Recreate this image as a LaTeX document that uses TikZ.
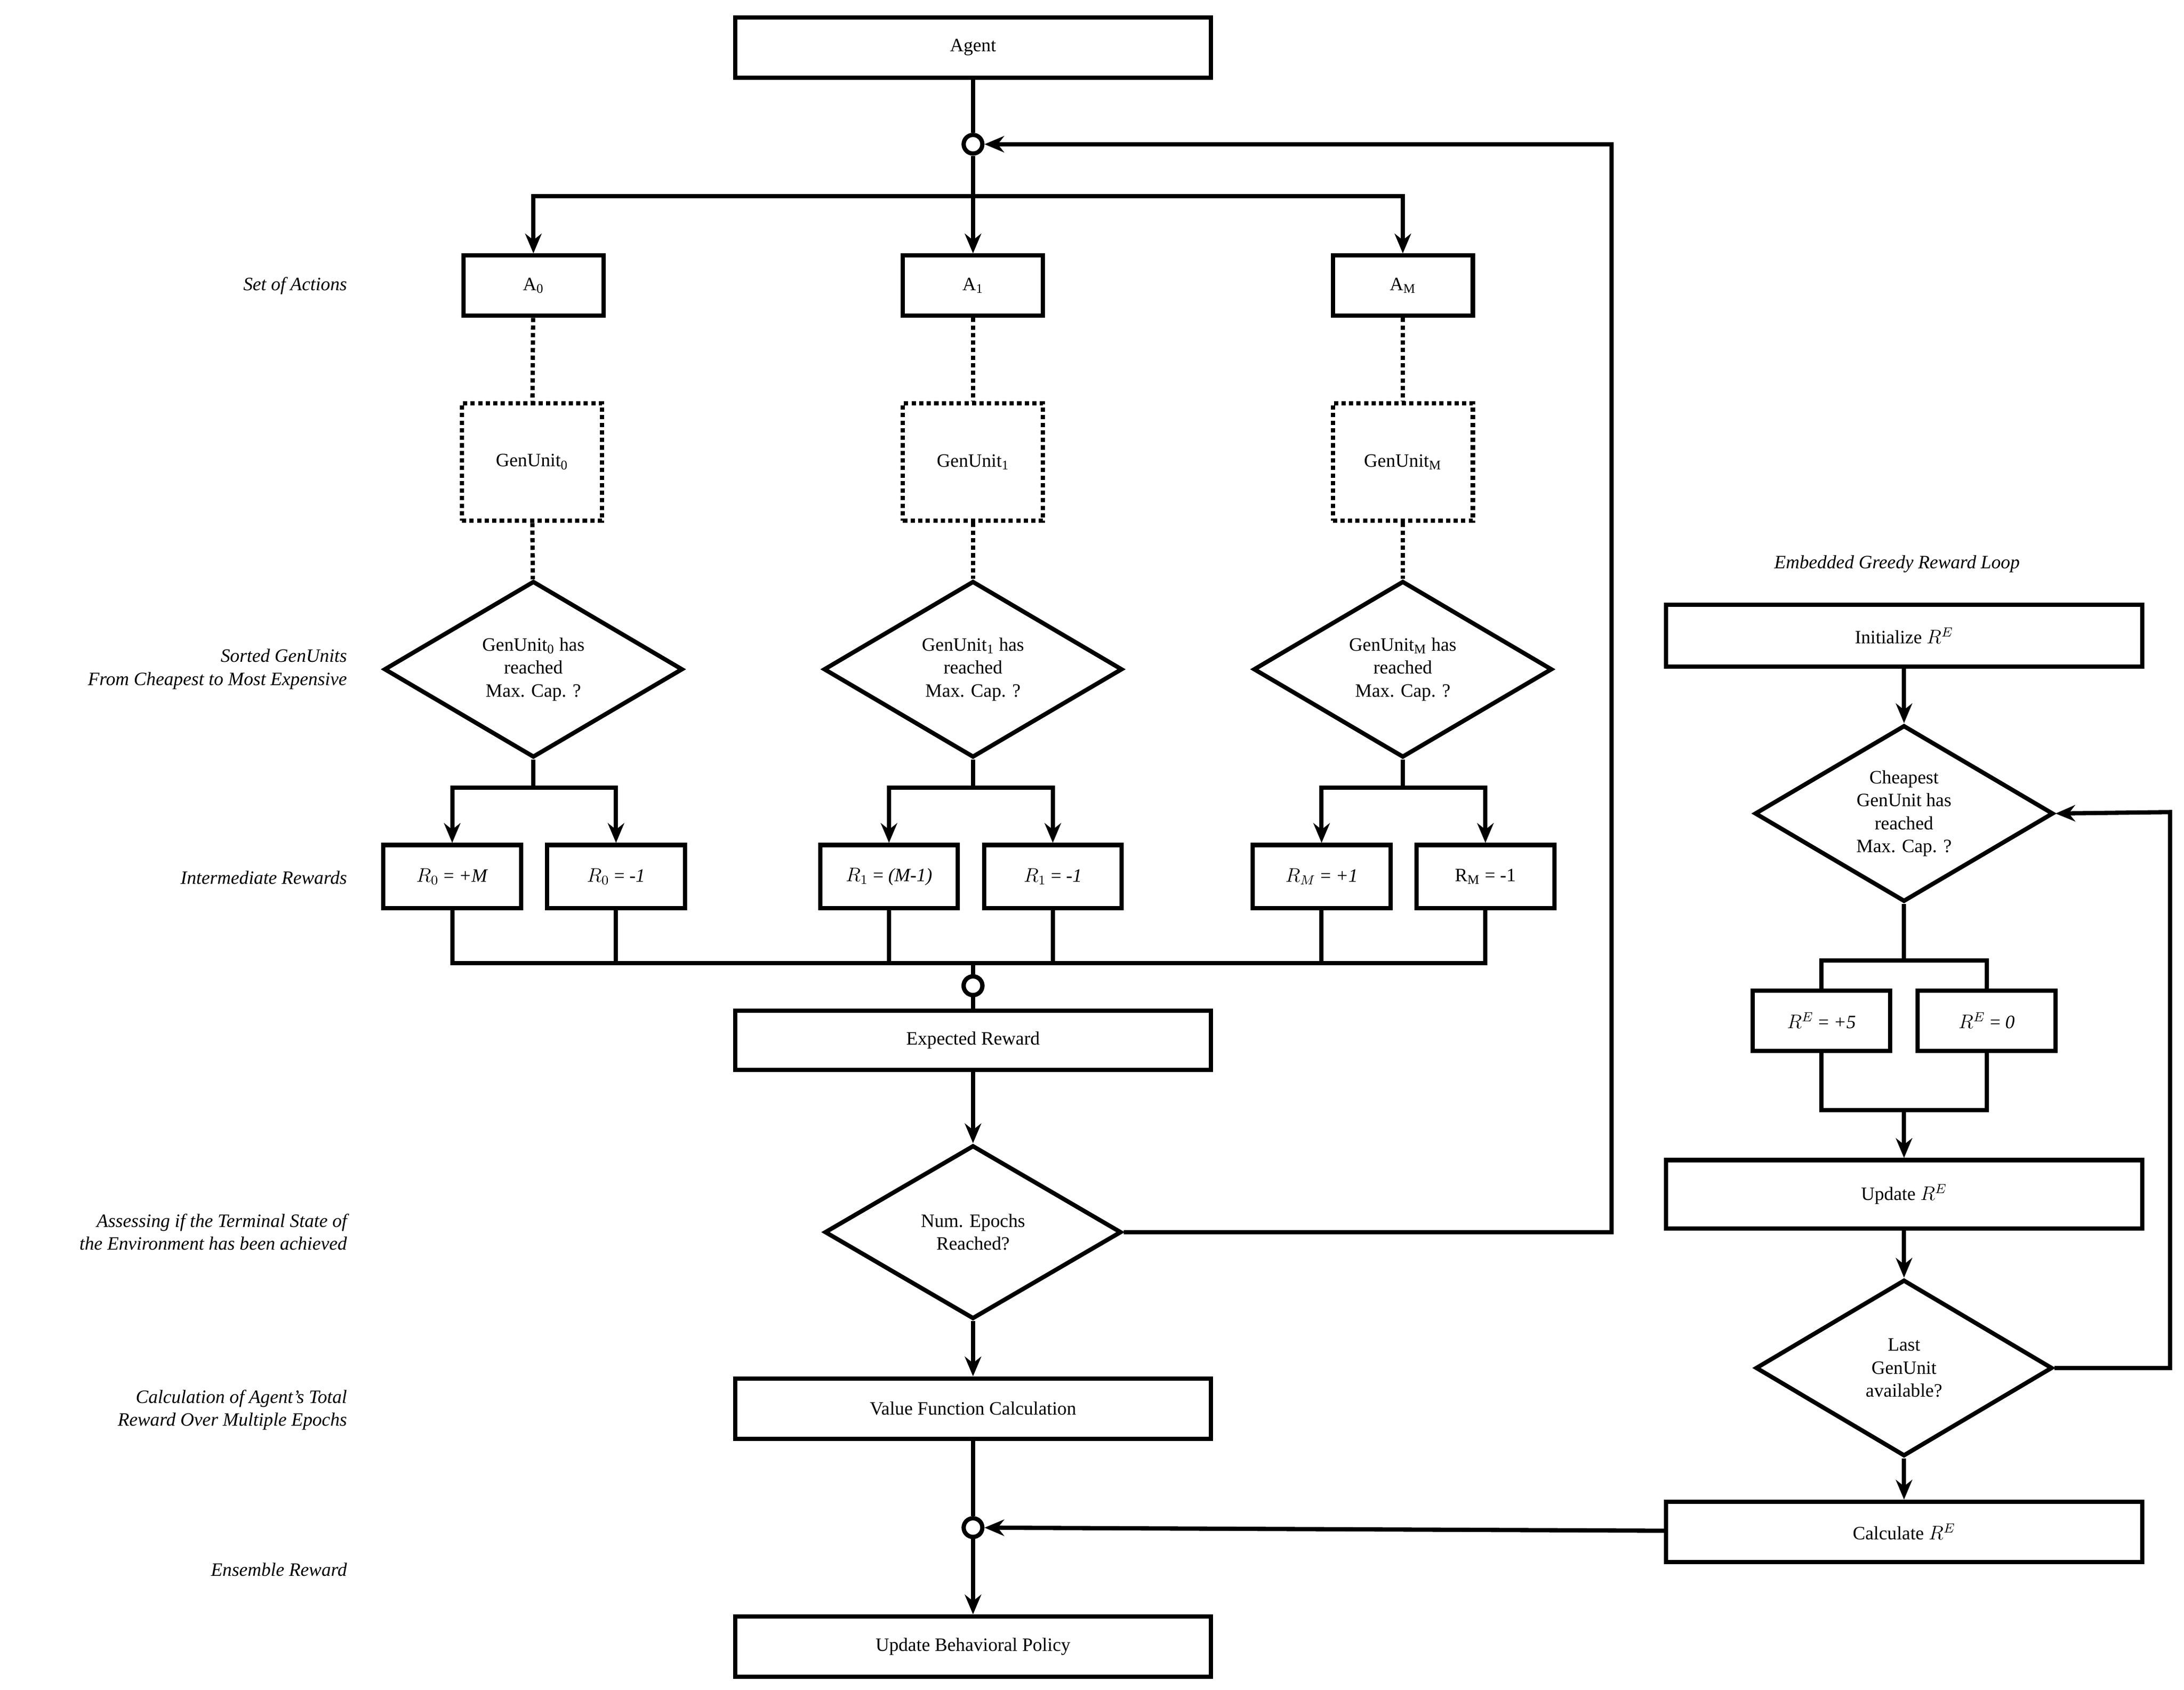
\documentclass[tikz,border=0pt]{standalone}
\usepackage{fontspec}
\setmainfont{Liberation Serif}
\usetikzlibrary{shapes.geometric,arrows.meta,calc}
\begin{document}
\begin{tikzpicture}[x=0.03cm,y=-0.03cm,
  every node/.style={font=\fontsize{11.5}{14}\selectfont},
  ln/.style={line width=2.6pt},
  ar/.style={ln,-{Stealth[length=12pt,width=10pt]}},
  dt/.style={line width=2.6pt,dotted},
  box/.style={draw,line width=2.6pt,rectangle,inner sep=0pt,align=center},
  dbox/.style={draw,line width=2.6pt,dotted,rectangle,inner sep=0pt,minimum width=3cm,minimum height=2.52cm},
  dia/.style={draw,line width=2.6pt,diamond,aspect=1.7,inner sep=0pt,minimum width=6.4cm,minimum height=3.78cm,align=center},
  jn/.style={draw,line width=2.6pt,circle,fill=white,inner sep=0pt,minimum size=0.4cm},
  lab/.style={font=\fontsize{11.5}{14}\selectfont\itshape,align=right,anchor=east}]
\useasboundingbox (0,0) rectangle (1560,1207);
% main column
\node[box,minimum width=10.2cm,minimum height=1.29cm] (agent) at (695,34) {Agent};
\node[jn] (j1) at (695,103) {};
\coordinate (sp) at (695,140);
\foreach \n/\x/\t in {0/381/A\textsubscript{0},1/695/A\textsubscript{1},M/1002/A\textsubscript{M}}{
  \node[box,minimum width=3cm,minimum height=1.29cm] (a\n) at (\x,204) {\t};
}
\node[dbox] (g0) at (380,330) {GenUnit\textsubscript{0}};
\node[dbox] (g1) at (695,330) {GenUnit\textsubscript{1}};
\node[dbox] (gM) at (1002,330) {GenUnit\textsubscript{M}};
\node[dia] (d0) at (381,478) {GenUnit\textsubscript{0} has\\reached\\Max. Cap. ?};
\node[dia] (d1) at (695,478) {GenUnit\textsubscript{1} has\\reached\\Max. Cap. ?};
\node[dia] (dM) at (1002,478) {GenUnit\textsubscript{M} has\\reached\\Max. Cap. ?};
\tikzset{rb/.style={box,minimum width=2.95cm,minimum height=1.35cm}}
\node[rb] (r0a) at (323,626) {$R_0$ = \textit{+M}};
\node[rb] (r0b) at (440,626) {$R_0$ = \textit{-1}};
\node[rb] (r1a) at (635,626) {$R_1$ = \textit{(M-1)}};
\node[rb] (r1b) at (752,626) {$R_1$ = \textit{-1}};
\node[rb] (rMa) at (944,626) {$R_M$ = \textit{+1}};
\node[rb] (rMb) at (1061,626) {R\textsubscript{M} = -1};
\node[jn] (j2) at (695,704) {};
\node[box,minimum width=10.2cm,minimum height=1.26cm] (exp) at (695,743) {Expected Reward};
\node[dia,minimum width=6.36cm,minimum height=3.72cm] (de) at (695,880) {Num. Epochs\\Reached?};
\node[box,minimum width=10.2cm,minimum height=1.29cm] (vf) at (695,1006) {Value Function Calculation};
\node[jn] (j3) at (695,1091) {};
\node[box,minimum width=10.2cm,minimum height=1.29cm] (ubp) at (695,1176) {Update Behavioral Policy};
% connectors main
\draw[ln] (agent) -- (j1);
\draw[ar] (j1) -- (sp) -| (a0);
\draw[ar] (sp) -- (a1);
\draw[ar] (sp) -| (aM);
\foreach \n in {0,1,M}{
  \draw[dt] (a\n) -- (g\n);
  \draw[dt] (g\n) -- (d\n);
}
\foreach \n/\a/\b in {0/r0a/r0b,1/r1a/r1b,M/rMa/rMb}{
  \draw[ln] (d\n.south) -- ++(0,20) coordinate (s\n);
  \draw[ar] (s\n) -| (\a);
  \draw[ar] (s\n) -| (\b);
}
\coordinate (bl) at (323,688);
\coordinate (br) at (1061,688);
\draw[ln] (r0a.south) -- (bl) -- (br) -- (rMb.south);
\foreach \r in {r0b,r1a,r1b,rMa}{ \draw[ln] (\r.south) -- (\r.south |- bl); }
\draw[ln] (695,688) -- (j2);
\node[jn] at (695,704) {};
\draw[ln] (j2) -- (exp);
\draw[ar] (exp) -- (de);
\coordinate (lp1) at (1151,880);
\coordinate (lp2) at (1151,103);
\draw[ar] (de.east) -- (lp1) -- (lp2) -- (j1);
\draw[ar] (de) -- (vf);
\draw[ln] (vf) -- (j3);
\draw[ar] (j3) -- (ubp);
% right column
\node[font=\fontsize{11.5}{14}\selectfont\itshape] at (1355,403) {Embedded Greedy Reward Loop};
\node[box,minimum width=10.2cm,minimum height=1.32cm] (init) at (1360,454) {Initialize $R^E$};
\node[dia] (dc) at (1360,581) {Cheapest\\GenUnit has\\reached\\Max. Cap. ?};
\node[rb,minimum height=1.29cm] (re5) at (1301,729) {$R^E$ = \textit{+5}};
\node[rb,minimum height=1.29cm] (re0) at (1419,729) {$R^E$ = \textit{0}};
\node[box,minimum width=10.2cm,minimum height=1.47cm] (upd) at (1360,853) {Update $R^E$};
\node[dia,minimum width=6.36cm] (dl) at (1360,977) {Last\\GenUnit\\available?};
\node[box,minimum width=10.2cm,minimum height=1.29cm] (calc) at (1360,1094) {Calculate $R^E$};
\draw[ar] (init) -- (dc);
\draw[ln] (dc.south) -- (1360,686) coordinate (cs);
\draw[ln] (re5.north) |- (cs) -| (re0.north);
\draw[ln] (re5.south) |- (1360,793) coordinate (cm) -| (re0.south);
\draw[ar] (cm) -- (upd);
\draw[ar] (upd) -- (dl);
\coordinate (q1) at (1550,977);
\coordinate (q2) at (1550,580);
\draw[ar] (dl.east) -- (q1) -- (q2) -- (dc.east);
\draw[ar] (dl) -- (calc);
\draw[ar] (calc) -- (j3);
% side labels
\node[lab] at (252,204) {Set of Actions};
\node[lab] at (252,478) {Sorted GenUnits\\From Cheapest to Most Expensive};
\node[lab] at (252,627) {Intermediate Rewards};
\node[lab] at (252,880) {Assessing if the Terminal State of\\the Environment has been achieved};
\node[lab] at (252,1007) {Calculation of Agent's Total\\Reward Over Multiple Epochs};
\node[lab] at (252,1121) {Ensemble Reward};
\end{tikzpicture}
\end{document}
